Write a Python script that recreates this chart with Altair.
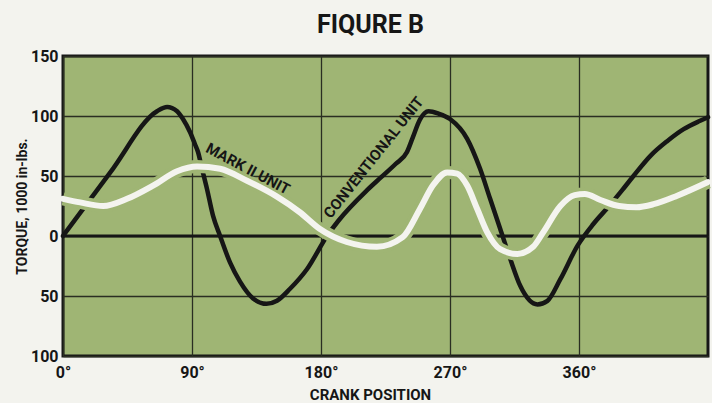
import altair as alt
import pandas as pd

# Conventional unit (black curve): crank angle (deg) and torque (1000 in-lbs)
conv_deg = [0, 33, 65.6, 72.6, 79.6, 83.7, 88.6, 92, 94.2, 97, 100.5, 104.7, 109.6,
            116.5, 123.5, 132.6, 142, 149.3, 158.4, 170.3, 184.2, 192, 212, 222, 232,
            240, 244, 249, 255, 262, 270, 282, 291, 298, 305, 312, 319, 331, 338, 347,
            359, 370, 381, 390, 398, 410, 421.5, 433, 444.5, 450]
conv_val = [0, 53, 104, 107.5, 104, 97.5, 86.7, 76.7, 70, 56, 39, 16.7, 0,
            -22, -38, -52, -56.5, -54, -44, -27.5, 0, 12.5, 38, 49, 60,
            70, 82, 97, 104, 102, 97.5, 81, 56, 31, 6, -19, -41.5, -57, -54, -36,
            -8, 10, 25, 38, 50, 67, 79, 89, 96, 99]

# Mark II unit (white curve)
mark_deg = [0, 12, 28, 44.7, 62.8, 79.6, 93.5, 109.6, 128.4, 149, 165, 179, 198, 219,
            237, 249, 258, 268, 275, 282, 289, 296, 305, 317, 328, 335, 347, 357, 364,
            375, 388, 400, 412, 428.5, 450]
mark_val = [31, 28, 25, 31, 42, 54, 58, 56, 46, 33, 20, 6, -5, -9,
            -1, 22.5, 42, 53, 52, 42, 22.5, 3, -11, -15, -9, 3, 25, 34, 35,
            30, 25, 24, 26.5, 33.6, 45]

x_ticks = [0, 90, 180, 270, 360]
y_ticks = [-100, -50, 0, 50, 100, 150]

label_text = ["MARK II UNIT", "CONVENTIONAL UNIT"]
label_deg = [129, 216.7]
label_val = [56, 65.4]
label_angle = [28, 308.5]

FONT = "Roboto"
INK = "#161616"
GREEN = "#9fb574"
PAPER = "#f3f3ee"

conv_df = pd.DataFrame({"deg": conv_deg, "val": conv_val})
mark_df = pd.DataFrame({"deg": mark_deg, "val": mark_val})
lab_df = pd.DataFrame({"text": label_text, "deg": label_deg, "val": label_val,
                       "angle": label_angle})
zero_df = pd.DataFrame({"deg": [0], "deg2": [450], "val": [0]})

xscale = alt.Scale(domain=[0, 450], nice=False, zero=False)
yscale = alt.Scale(domain=[-100, 150], nice=False, zero=False)

x_axis = alt.Axis(values=x_ticks, labelExpr="datum.value + '°'", grid=True,
                  gridColor="#2a2e22", gridWidth=1.3, domain=False, ticks=False,
                  labelFont=FONT, labelFontSize=16, labelFontWeight="bold",
                  labelColor=INK, labelPadding=8, labelFlush=False,
                  title="CRANK POSITION", titleFont=FONT, titleFontSize=15,
                  titleFontWeight="bold", titleColor=INK, titleX=307, titleY=43,
                  titleAlign="center", titleBaseline="alphabetic")
y_axis = alt.Axis(values=y_ticks, labelExpr="abs(datum.value)", grid=True,
                  gridColor="#2a2e22", gridWidth=1.3, domain=False, ticks=False,
                  labelFont=FONT, labelFontSize=16, labelFontWeight="bold",
                  labelColor=INK, labelPadding=5, labelBaseline="middle",
                  labelFlush=False,
                  title="TORQUE, 1000 in-lbs.", titleFont=FONT, titleFontSize=14,
                  titleFontWeight="bold", titleColor=INK, titleX=-41, titleY=150,
                  titleAngle=270, titleAlign="center", titleBaseline="middle")

X = alt.X("deg:Q", scale=xscale, axis=x_axis)
Y = alt.Y("val:Q", scale=yscale, axis=y_axis)

zero = alt.Chart(zero_df).mark_rule(color=INK, strokeWidth=3).encode(
    x=X, x2="deg2:Q", y=Y,
)

black = alt.Chart(conv_df).mark_line(color=INK, strokeWidth=4.5, interpolate="monotone",
                                     strokeCap="round").encode(x=X, y=Y)

halo = alt.Chart(mark_df).mark_line(color=GREEN, strokeWidth=13,
                                    interpolate="monotone").encode(x=X, y=Y)

white = alt.Chart(mark_df).mark_line(color="#f4f4ef", strokeWidth=6, interpolate="monotone",
                                     strokeCap="round").encode(x=X, y=Y)

labels = alt.Chart(lab_df).mark_text(font=FONT, fontSize=15, fontWeight="bold", color=INK,
                                     align="center", baseline="middle").encode(
    x=X, y=Y,
    text="text:N",
    angle=alt.Angle("angle:Q", scale=None),
)

chart = alt.layer(zero, black, halo, white, labels).properties(
    width=645, height=300,
    padding={"left": 63, "top": 56, "right": 4, "bottom": 47},
    autosize=alt.AutoSizeParams(type="none"),
    background=PAPER,
    title=alt.TitleParams("FIQURE B", font=FONT, fontSize=25, fontWeight="bold",
                          color=INK, anchor="middle", dx=-15, offset=10),
).configure_view(fill=GREEN, stroke=INK, strokeWidth=3)

chart.save("out.html", embed_options={"renderer": "svg", "actions": False})
